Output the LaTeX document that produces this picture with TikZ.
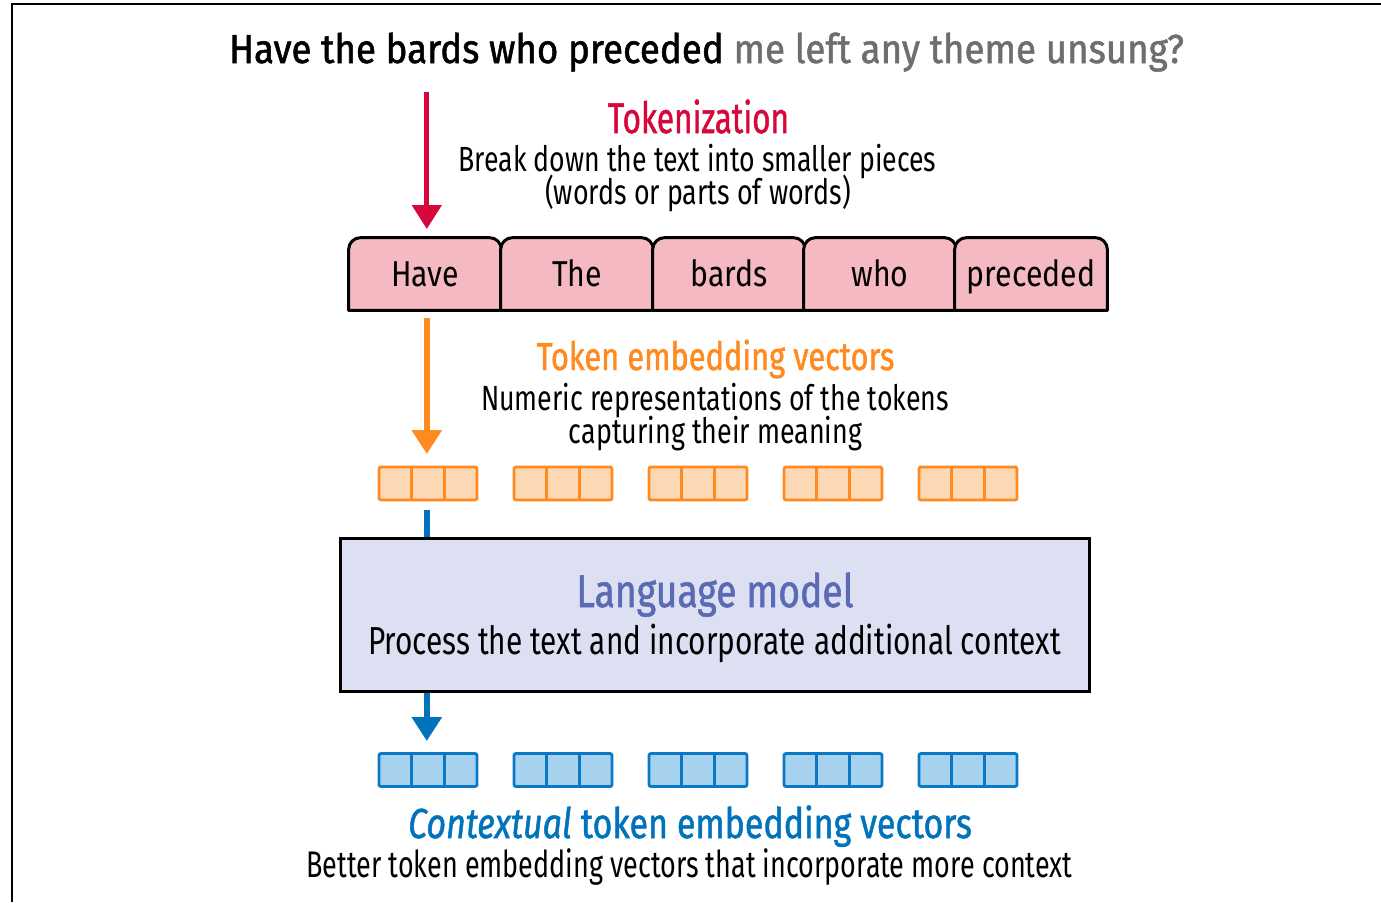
\documentclass[tikz,border=0pt]{standalone}
\usepackage{fontspec}
\usepackage{graphicx}
\setmainfont{Fira Sans}[FakeStretch=0.84]
\newfontfamily\medfont{Fira Sans}[FakeStretch=0.84,FakeBold=1.2]
\usetikzlibrary{arrows.meta,calc}

\definecolor{tokred}{HTML}{D6083B}
\definecolor{emborange}{HTML}{FF8A1F}
\definecolor{embfill}{HTML}{FDD8B4}
\definecolor{tokfill}{HTML}{F4B9C1}
\definecolor{lmfill}{HTML}{DDE0F2}
\definecolor{lmtext}{HTML}{5A6AB5}
\definecolor{ctxblue}{HTML}{0073BB}
\definecolor{ctxfill}{HTML}{A6D2EF}
\definecolor{ctxstroke}{HTML}{0A78C2}
\definecolor{titlegray}{HTML}{6E6E6E}

% horizontal squeeze / widen of a line of text
\newcommand{\hsq}[2]{\scalebox{#1}[1]{#2}}

\tikzset{
  fs/.style={font=\fontsize{#1}{#1}\selectfont},
  fsm/.style={font=\medfont\fontsize{#1}{#1}\selectfont},
  label/.style={inner sep=0pt,anchor=base},
  tokbox/.style={minimum width=76pt,minimum height=36pt,inner sep=0pt},
  tokshape/.style={draw=black,fill=tokfill,line width=1.5pt,line join=round},
  vecbox/.style={minimum width=49pt,minimum height=16.5pt,inner sep=0pt,line width=1.4pt,rounded corners=1pt},
  embvec/.style={vecbox,draw=emborange,fill=embfill},
  ctxvec/.style={vecbox,draw=ctxstroke,fill=ctxfill},
  flow/.style={line width=#1,-{Triangle[width=14.5pt,length=12pt]}},
}

\begin{document}
\begin{tikzpicture}[x=0.5pt,y=-0.5pt]
\useasboundingbox (0,0) rectangle (1381,902);

% frame edges
\coordinate (frameTL) at (12,4);
\coordinate (frameTR) at (1381,4);
\coordinate (frameBL) at (12,902);
\draw[line width=1pt] (frameBL) -- (frameTL) -- (frameTR);

% title sentence
\node[label,fsm=20.3] (title) at (706.5,63)
  {\hsq{1.077}{Have the bards who preceded \textcolor{titlegray}{me left any theme unsung?}}};

% tokenization caption
\node[label,fsm=21.5,text=tokred] (tokcap) at (698.5,133) {\hsq{0.873}{Tokenization}};
\node[label,fs=17.5] (tokd1) at (697.5,171) {\hsq{0.907}{Break down the text into smaller pieces}};
\node[label,fs=17.5] (tokd2) at (698,204) {\hsq{0.913}{(words or parts of words)}};

% token tabs
\foreach \i/\x/\w in {1/425/Have,2/577/The,3/729/bards,4/880/who,5/1031/preceded}{
  \node[tokbox] (t\i) at (\x,274) {};
  \draw[tokshape] (t\i.south west) [rounded corners=6pt] -- (t\i.north west)
        -- (t\i.north east) [sharp corners] -- (t\i.south east) -- cycle;
  \node[label,fs=18] (tw\i) at (\x,286) {\w};
}

% embedding caption
\node[label,fsm=19.5,text=emborange] (embcap) at (715.5,370) {\hsq{0.94}{Token embedding vectors}};
\node[label,fs=17.5] (embd1) at (715,410) {\hsq{0.91}{Numeric representations of the tokens}};
\node[label,fs=17.5] (embd2) at (715.5,443) {\hsq{0.913}{capturing their meaning}};

% embedding vectors and contextual vectors
\foreach \i/\x in {1/428,2/563,3/698,4/833,5/968}{
  \node[embvec] (e\i) at (\x,483.5) {};
  \draw[emborange,line width=1.4pt] ($(e\i.north west)!1/3!(e\i.north east)$) -- ($(e\i.south west)!1/3!(e\i.south east)$)
    ($(e\i.north west)!2/3!(e\i.north east)$) -- ($(e\i.south west)!2/3!(e\i.south east)$);
  \node[ctxvec] (c\i) at (\x,770) {};
  \draw[ctxstroke,line width=1.4pt] ($(c\i.north west)!1/3!(c\i.north east)$) -- ($(c\i.south west)!1/3!(c\i.south east)$)
    ($(c\i.north west)!2/3!(c\i.north east)$) -- ($(c\i.south west)!2/3!(c\i.south east)$);
}

% language model block
\node[draw=black,fill=lmfill,line width=1.5pt,minimum width=374.5pt,minimum height=76.5pt,inner sep=0pt]
  (lm) at (714.5,614.5) {};
\node[label,fsm=23,text=lmtext] (lmcap) at (715,607) {\hsq{0.965}{Language model}};
\node[label,fs=19.5] (lmd) at (714.5,654) {\hsq{0.91}{Process the text and incorporate additional context}};

% contextual caption
\node[label,fsm=21,text=ctxblue] (ctxcap) at (690,838)
  {\hsq{0.964}{\textit{Contextual} token embedding vectors}};
\node[label,fs=18.5] (ctxd) at (689.5,877) {\hsq{0.867}{Better token embedding vectors that incorporate more context}};

% flow arrows, all in the column of the first token
\coordinate (col) at ([xshift=-0.6pt]e1.north);
\draw[flow=2.5pt,tokred] (col |- 0,92) -- (col |- 0,229);
\draw[flow=3pt,emborange] (col |- t1.south) ++(0,8) -- (col |- 0,454);
\draw[ctxblue,line width=3.2pt] (col |- 0,510) -- (lm.north -| col);
\draw[flow=3.2pt,ctxblue] (lm.south -| col) -- (col |- 0,741);
\end{tikzpicture}
\end{document}
